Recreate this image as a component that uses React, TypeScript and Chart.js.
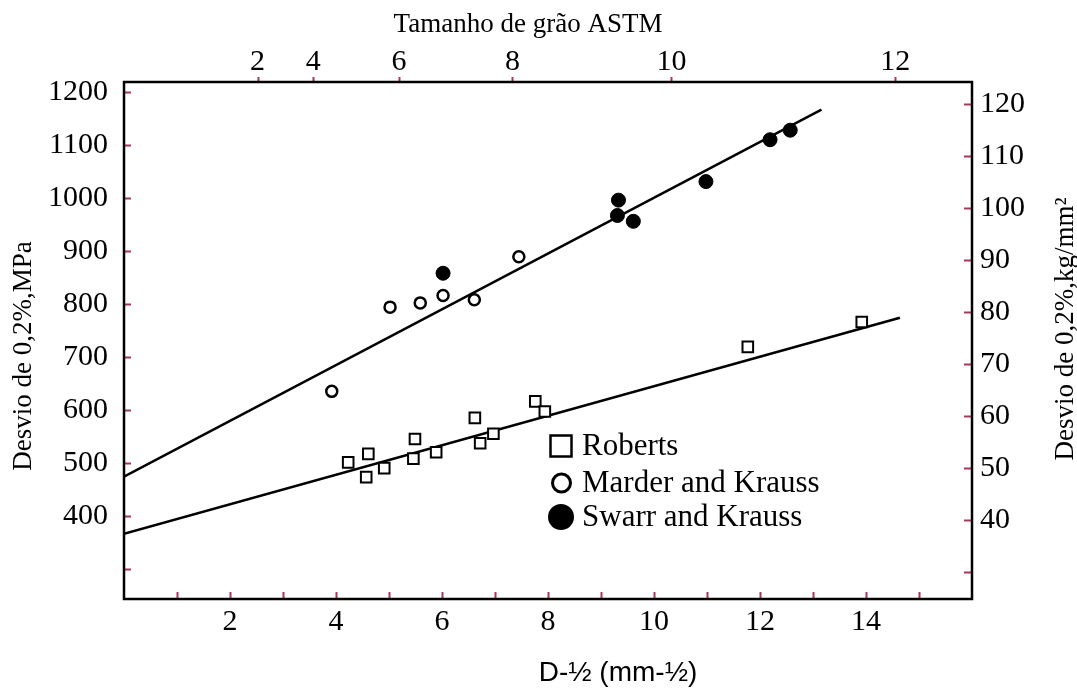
import React, { useEffect, useRef } from 'react';
import { Chart, registerables } from 'chart.js';

Chart.register(...registerables);

// ---- Data ----
const robertsX = [4.23, 4.61, 4.57, 4.91, 5.49, 5.46, 5.89, 6.62, 6.72, 6.97, 7.76, 7.94, 11.77, 13.92];
const robertsY = [501, 517, 473, 490, 545, 508, 520, 585, 537, 555, 616, 597, 719, 766];

const marderX = [3.92, 5.02, 5.59, 6.02, 6.61, 7.45];
const marderY = [635, 794, 802, 816, 808, 889];

const swarrX = [6.02, 9.33, 9.31, 9.61, 10.98, 12.19, 12.57];
const swarrY = [858, 996, 967, 956, 1031, 1110, 1128];

const upperFitX = [0, 13.16];
const upperFitY = [474, 1167];
const lowerFitX = [0, 14.64];
const lowerFitY = [366, 774];

// ---- Axes ----
const xMin = 0;
const xMax = 16;
const xTickValues = [1, 2, 3, 4, 5, 6, 7, 8, 9, 10, 11, 12, 13, 14, 15];
const xLabelValues = [2, 4, 6, 8, 10, 12, 14];

const yMinMPa = 243;
const yMaxMPa = 1219;
const mpaTickValues = [300, 400, 500, 600, 700, 800, 900, 1000, 1100, 1200];
const mpaLabelValues = [400, 500, 600, 700, 800, 900, 1000, 1100, 1200];

const MPA_PER_KGF_MM2 = 9.81;
const kgTickValues = [30, 40, 50, 60, 70, 80, 90, 100, 110, 120];

const astmSizes = [2, 4, 6, 8, 10, 12];
const astmPositions = [2.52, 3.57, 5.19, 7.33, 10.33, 14.55];

const legendLabels = ['Roberts', 'Marder and Krauss', 'Swarr and Krauss'];
const titleTop = 'Tamanho de grão ASTM';
const titleLeft = 'Desvio de 0,2%,MPa';
const titleRight = 'Desvio de 0,2%,kg/mm²';
const titleBottom = 'D-½ (mm-½)';

const SERIF = '"Liberation Serif", "Times New Roman", serif';
const SANS = '"Liberation Sans", Arial, sans-serif';
const TICK_COLOR = '#a8365f';

const toPoints = (xs: number[], ys: number[]) => xs.map((x, i) => ({ x, y: ys[i] }));

const decorPlugin = {
  id: 'decor',
  afterDraw(chart: any) {
    const { ctx, chartArea: a, scales } = chart;
    const sx = scales.x, sy = scales.y, sx2 = scales.x2, sy2 = scales.y2;
    ctx.save();

    // tick marks
    ctx.strokeStyle = TICK_COLOR;
    ctx.lineWidth = 2;
    ctx.beginPath();
    mpaTickValues.forEach((v) => {
      const p = Math.round(sy.getPixelForValue(v)) + 0.5;
      ctx.moveTo(a.left, p);
      ctx.lineTo(a.left + 7, p);
    });
    xTickValues.forEach((v) => {
      const p = Math.round(sx.getPixelForValue(v)) + 0.5;
      ctx.moveTo(p, a.bottom);
      ctx.lineTo(p, a.bottom - 7);
    });
    astmPositions.forEach((v) => {
      const p = Math.round(sx2.getPixelForValue(v)) + 0.5;
      ctx.moveTo(p, a.top);
      ctx.lineTo(p, a.top - 5);
    });
    kgTickValues.forEach((v) => {
      const p = Math.round(sy2.getPixelForValue(v)) + 0.5;
      ctx.moveTo(a.right, p);
      ctx.lineTo(a.right - 8, p);
    });
    ctx.stroke();

    // frame
    ctx.strokeStyle = '#000';
    ctx.lineWidth = 2.5;
    ctx.strokeRect(a.left, a.top, a.right - a.left, a.bottom - a.top);

    // titles
    ctx.fillStyle = '#000';
    ctx.textAlign = 'center';
    ctx.textBaseline = 'middle';
    ctx.font = `27px ${SERIF}`;
    ctx.fillText(titleTop, (a.left + a.right) / 2 - 20, 25);

    ctx.save();
    ctx.translate(24, 356);
    ctx.rotate(-Math.PI / 2);
    ctx.fillText(titleLeft, 0, 0);
    ctx.restore();

    ctx.save();
    ctx.translate(1066, 329);
    ctx.rotate(-Math.PI / 2);
    ctx.fillText(titleRight, 0, 0);
    ctx.restore();

    ctx.font = `28px ${SANS}`;
    ctx.fillText(titleBottom, 618, 673);

    // legend
    const mx = a.left + 437;
    const rows = [446, 483, 517];
    ctx.lineWidth = 2.5;
    ctx.strokeRect(mx - 10.5, rows[0] - 10.5, 21, 21);
    ctx.lineWidth = 3;
    ctx.beginPath();
    ctx.arc(mx + 0.5, rows[1], 9, 0, Math.PI * 2);
    ctx.stroke();
    ctx.beginPath();
    ctx.arc(mx, rows[2], 13, 0, Math.PI * 2);
    ctx.fill();

    ctx.font = `31px ${SERIF}`;
    ctx.textAlign = 'left';
    ctx.textBaseline = 'alphabetic';
    legendLabels.forEach((t, i) => {
      ctx.fillText(t, a.left + 458, rows[i] + 9);
    });

    ctx.restore();
  },
};

export default function App() {
  const ref = useRef<HTMLCanvasElement | null>(null);

  useEffect(() => {
    if (!ref.current) return;
    const tickFont = { family: SERIF, size: 30 };
    const chart = new Chart(ref.current, {
      type: 'scatter',
      data: {
        datasets: [
          {
            label: legendLabels[0],
            data: toPoints(robertsX, robertsY),
            pointStyle: 'rect',
            pointRadius: 7.5,
            pointBorderWidth: 2,
            pointBorderColor: '#000',
            pointBackgroundColor: '#fff',
            showLine: false,
          },
          {
            label: legendLabels[1],
            data: toPoints(marderX, marderY),
            pointStyle: 'circle',
            pointRadius: 5.5,
            pointBorderWidth: 2.5,
            pointBorderColor: '#000',
            pointBackgroundColor: '#fff',
            showLine: false,
          },
          {
            label: legendLabels[2],
            data: toPoints(swarrX, swarrY),
            pointStyle: 'circle',
            pointRadius: 7,
            pointBorderWidth: 1,
            pointBorderColor: '#000',
            pointBackgroundColor: '#000',
            showLine: false,
          },
          {
            label: 'fit-upper',
            data: toPoints(upperFitX, upperFitY),
            showLine: true,
            borderColor: '#000',
            borderWidth: 2.5,
            pointRadius: 0,
          },
          {
            label: 'fit-lower',
            data: toPoints(lowerFitX, lowerFitY),
            showLine: true,
            borderColor: '#000',
            borderWidth: 2.5,
            pointRadius: 0,
          },
        ],
      },
      options: {
        responsive: false,
        animation: false,
        devicePixelRatio: 1,
        layout: { padding: 0 },
        plugins: { legend: { display: false }, tooltip: { enabled: false } },
        events: [],
        scales: {
          x: {
            type: 'linear',
            position: 'bottom',
            min: xMin,
            max: xMax,
            grid: { display: false, drawTicks: false },
            border: { display: false },
            afterBuildTicks: (s: any) => {
              s.ticks = xTickValues.map((v) => ({ value: v }));
            },
            afterFit: (s: any) => {
              s.height = 89;
            },
            ticks: {
              autoSkip: false,
              maxRotation: 0,
              padding: 5,
              color: '#000',
              font: tickFont,
              callback: (v: any) => (xLabelValues.includes(Number(v)) ? String(v) : ''),
            },
          },
          x2: {
            type: 'linear',
            position: 'top',
            min: xMin,
            max: xMax,
            grid: { display: false, drawTicks: false },
            border: { display: false },
            afterBuildTicks: (s: any) => {
              s.ticks = astmPositions.map((v) => ({ value: v }));
            },
            afterFit: (s: any) => {
              s.height = 82;
            },
            ticks: {
              autoSkip: false,
              maxRotation: 0,
              padding: 2,
              color: '#000',
              font: tickFont,
              callback: (v: any) => {
                const i = astmPositions.indexOf(Number(v));
                return i >= 0 ? String(astmSizes[i]) : '';
              },
            },
          },
          y: {
            type: 'linear',
            position: 'left',
            min: yMinMPa,
            max: yMaxMPa,
            grid: { display: false, drawTicks: false },
            border: { display: false },
            afterBuildTicks: (s: any) => {
              s.ticks = mpaTickValues.map((v) => ({ value: v }));
            },
            afterFit: (s: any) => {
              s.width = 124;
            },
            ticks: {
              autoSkip: false,
              padding: 16,
              color: '#000',
              font: tickFont,
              callback: (v: any) => (mpaLabelValues.includes(Number(v)) ? String(v) : ''),
            },
          },
          y2: {
            type: 'linear',
            position: 'right',
            min: yMinMPa / MPA_PER_KGF_MM2,
            max: yMaxMPa / MPA_PER_KGF_MM2,
            grid: { display: false, drawTicks: false },
            border: { display: false },
            afterBuildTicks: (s: any) => {
              s.ticks = kgTickValues.map((v) => ({ value: v }));
            },
            afterFit: (s: any) => {
              s.width = 105;
            },
            ticks: {
              autoSkip: false,
              padding: 8,
              color: '#000',
              font: tickFont,
              callback: (v: any) => (Number(v) >= 40 ? String(v) : ''),
            },
          },
        },
      } as any,
      plugins: [decorPlugin],
    });
    return () => chart.destroy();
  }, []);

  return (
    <div style={{ position: 'absolute', left: 0, top: 0, width: 1077, height: 688, background: '#fff' }}>
      <canvas ref={ref} width={1077} height={688} style={{ width: 1077, height: 688, display: 'block' }} />
    </div>
  );
}
